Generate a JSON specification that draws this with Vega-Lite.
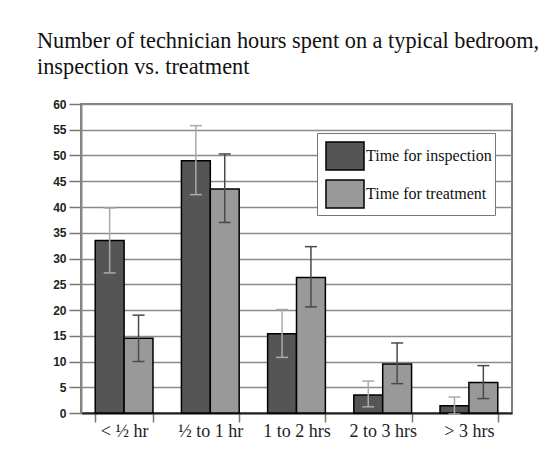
{
  "$schema": "https://vega.github.io/schema/vega-lite/v6.json",
  "autosize": "none",
  "padding": {"left": 81, "top": 104, "right": 38, "bottom": 56},
  "width": 431,
  "height": 309,
  "background": "white",
  "title": {
    "text": ["Number of technician hours spent on a typical bedroom,", "inspection vs. treatment"],
    "anchor": "start",
    "frame": "group",
    "dx": -44,
    "offset": -3,
    "font": "Liberation Serif",
    "fontSize": 22.3,
    "fontWeight": "normal",
    "color": "#111111",
    "lineHeight": 26,
    "baseline": "bottom"
  },
  "data": {
    "values": [
      {"cat": "< ½ hr", "series": "Time for inspection", "value": 33.5, "lo": 27.2, "hi": 39.8},
      {"cat": "< ½ hr", "series": "Time for treatment", "value": 14.5, "lo": 10.0, "hi": 19.0},
      {"cat": "½ to 1 hr", "series": "Time for inspection", "value": 49.0, "lo": 42.4, "hi": 55.8},
      {"cat": "½ to 1 hr", "series": "Time for treatment", "value": 43.5, "lo": 37.0, "hi": 50.3},
      {"cat": "1 to 2 hrs", "series": "Time for inspection", "value": 15.4, "lo": 10.8, "hi": 20.1},
      {"cat": "1 to 2 hrs", "series": "Time for treatment", "value": 26.3, "lo": 20.6, "hi": 32.3},
      {"cat": "2 to 3 hrs", "series": "Time for inspection", "value": 3.5, "lo": 1.2, "hi": 6.2},
      {"cat": "2 to 3 hrs", "series": "Time for treatment", "value": 9.5, "lo": 5.7, "hi": 13.6},
      {"cat": "> 3 hrs", "series": "Time for inspection", "value": 1.4, "lo": -0.2, "hi": 3.1},
      {"cat": "> 3 hrs", "series": "Time for treatment", "value": 5.9, "lo": 2.8, "hi": 9.2}
    ]
  },
  "encoding": {
    "x": {
      "field": "cat",
      "type": "nominal",
      "sort": ["< ½ hr", "½ to 1 hr", "1 to 2 hrs", "2 to 3 hrs", "> 3 hrs"],
      "scale": {"paddingInner": 0.33, "paddingOuter": 0.165},
      "axis": {
        "title": null,
        "labelAngle": 0,
        "labelFont": "Liberation Serif",
        "labelFontSize": 18,
        "labelColor": "#222222",
        "tickBand": "extent",
        "tickSize": 9,
        "tickColor": "#777777",
        "tickWidth": 1.5,
        "domainColor": "#222222",
        "domainWidth": 2,
        "labelPadding": 0,
        "grid": false
      }
    },
    "xOffset": {"field": "series", "type": "nominal", "sort": ["Time for inspection", "Time for treatment"]}
  },
  "layer": [
    {
      "mark": {"type": "bar", "stroke": "black", "strokeWidth": 1.5, "opacity": 1},
      "encoding": {
        "y": {
          "field": "value",
          "type": "quantitative",
          "scale": {"domain": [0, 60], "nice": false},
          "axis": {
            "title": null,
            "values": [0, 5, 10, 15, 20, 25, 30, 35, 40, 45, 50, 55, 60],
            "labelFont": "Liberation Sans",
            "labelFontWeight": "bold",
            "labelFontSize": 12,
            "labelColor": "#222222",
            "labelOverlap": false,
            "tickSize": 12,
            "tickColor": "#777777",
            "tickWidth": 1.5,
            "domainColor": "#888888",
            "domainWidth": 2,
            "labelPadding": 3,
            "grid": true,
            "gridColor": "#8a8a8a",
            "gridWidth": 1.5
          }
        },
        "color": {
          "field": "series",
          "type": "nominal",
          "scale": {"domain": ["Time for inspection", "Time for treatment"], "range": ["#555555", "#999999"]},
          "legend": {
            "title": null,
            "orient": "none",
            "legendX": 236,
            "legendY": 29,
            "strokeColor": "#777777",
            "fillColor": "white",
            "padding": 3,
            "rowPadding": -2,
            "symbolOffset": 5,
            "labelFont": "Liberation Serif",
            "labelFontSize": 16,
            "labelColor": "#111111",
            "labelOffset": 1,
            "symbolType": "M-1,-0.737L1,-0.737L1,0.737L-1,0.737Z",
            "symbolSize": 1444,
            "symbolStrokeColor": "black",
            "symbolStrokeWidth": 1.5,
            "symbolOpacity": 1
          }
        }
      }
    },
    {
      "mark": {"type": "rule", "strokeWidth": 1.5},
      "encoding": {
        "y": {
          "field": "lo",
          "type": "quantitative",
          "scale": {"domain": [0, 60], "nice": false},
          "axis": {
            "title": null,
            "values": [0, 5, 10, 15, 20, 25, 30, 35, 40, 45, 50, 55, 60],
            "labelFont": "Liberation Sans",
            "labelFontWeight": "bold",
            "labelFontSize": 12,
            "labelColor": "#222222",
            "labelOverlap": false,
            "tickSize": 12,
            "tickColor": "#777777",
            "tickWidth": 1.5,
            "domainColor": "#888888",
            "domainWidth": 2,
            "labelPadding": 3,
            "grid": true,
            "gridColor": "#8a8a8a",
            "gridWidth": 1.5
          }
        },
        "y2": {"field": "hi"},
        "color": {
          "field": "series",
          "type": "nominal",
          "scale": {"domain": ["Time for inspection", "Time for treatment"], "range": ["#aaaaaa", "#4a4a4a"]},
          "legend": null
        }
      }
    },
    {
      "mark": {"type": "tick", "size": 12, "thickness": 1.5, "opacity": 1},
      "encoding": {
        "y": {
          "field": "lo",
          "type": "quantitative",
          "scale": {"domain": [0, 60], "nice": false},
          "axis": {
            "title": null,
            "values": [0, 5, 10, 15, 20, 25, 30, 35, 40, 45, 50, 55, 60],
            "labelFont": "Liberation Sans",
            "labelFontWeight": "bold",
            "labelFontSize": 12,
            "labelColor": "#222222",
            "labelOverlap": false,
            "tickSize": 12,
            "tickColor": "#777777",
            "tickWidth": 1.5,
            "domainColor": "#888888",
            "domainWidth": 2,
            "labelPadding": 3,
            "grid": true,
            "gridColor": "#8a8a8a",
            "gridWidth": 1.5
          }
        },
        "color": {
          "field": "series",
          "type": "nominal",
          "scale": {"domain": ["Time for inspection", "Time for treatment"], "range": ["#aaaaaa", "#4a4a4a"]},
          "legend": null
        }
      }
    },
    {
      "mark": {"type": "tick", "size": 12, "thickness": 1.5, "opacity": 1},
      "encoding": {
        "y": {
          "field": "hi",
          "type": "quantitative",
          "scale": {"domain": [0, 60], "nice": false},
          "axis": {
            "title": null,
            "values": [0, 5, 10, 15, 20, 25, 30, 35, 40, 45, 50, 55, 60],
            "labelFont": "Liberation Sans",
            "labelFontWeight": "bold",
            "labelFontSize": 12,
            "labelColor": "#222222",
            "labelOverlap": false,
            "tickSize": 12,
            "tickColor": "#777777",
            "tickWidth": 1.5,
            "domainColor": "#888888",
            "domainWidth": 2,
            "labelPadding": 3,
            "grid": true,
            "gridColor": "#8a8a8a",
            "gridWidth": 1.5
          }
        },
        "color": {
          "field": "series",
          "type": "nominal",
          "scale": {"domain": ["Time for inspection", "Time for treatment"], "range": ["#aaaaaa", "#4a4a4a"]},
          "legend": null
        }
      }
    }
  ],
  "resolve": {"scale": {"color": "independent"}},
  "config": {
    "view": {"stroke": "#555555", "strokeWidth": 1.5},
    "title": {"font": "Liberation Serif", "fontWeight": "normal"}
  }
}
